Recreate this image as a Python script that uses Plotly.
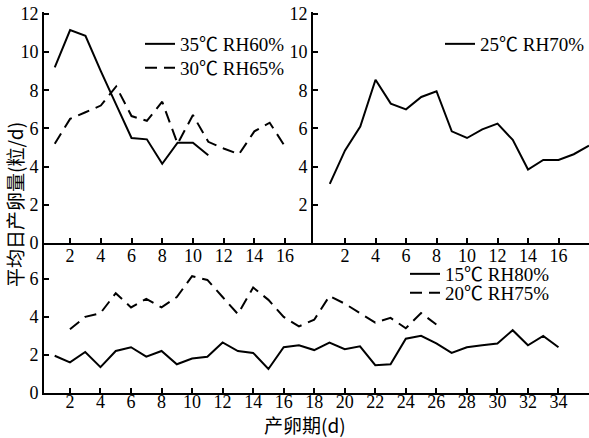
import plotly.graph_objects as go

# ---- data ----
days_35 = list(range(1, 12))
egg_35 = [9.2, 11.15, 10.85, 9.0, 7.25, 5.5, 5.43, 4.15, 5.25, 5.25, 4.6]
days_30 = list(range(1, 17))
egg_30 = [5.2, 6.5, 6.85, 7.2, 8.2, 6.65, 6.4, 7.4, 5.2, 6.7, 5.3, 4.95, 4.65, 5.85, 6.3, 5.05]
days_25 = list(range(1, 19))
egg_25 = [3.1, 4.85, 6.1, 8.55, 7.3, 7.0, 7.65, 7.95, 5.85, 5.5, 5.95, 6.25, 5.4, 3.85, 4.35, 4.35, 4.65, 5.1]
days_15 = list(range(1, 35))
egg_15 = [1.95, 1.6, 2.15, 1.35, 2.2, 2.4, 1.9, 2.2, 1.5, 1.8, 1.9, 2.65, 2.2, 2.1, 1.25, 2.4, 2.5,
          2.25, 2.65, 2.3, 2.45, 1.45, 1.5, 2.85, 3.0, 2.6, 2.1, 2.4, 2.5, 2.6, 3.3, 2.5, 3.0, 2.4]
days_20 = list(range(2, 27))
egg_20 = [3.35, 4.0, 4.2, 5.25, 4.5, 4.95, 4.5, 5.05, 6.15, 5.95, 5.05, 4.15, 5.55, 4.9, 4.0, 3.5,
          3.85, 5.1, 4.7, 4.2, 3.7, 3.95, 3.4, 4.2, 3.6]

ticks_top_left = list(range(2, 17, 2))
ticks_top_right = list(range(2, 17, 2))
origin_tick = [0]             # corner tick label "0" of the right panel
yticks_top_left = list(range(0, 13, 2))
yticks_top_right = list(range(2, 13, 2))
ticks_bottom = list(range(2, 35, 2))
yticks_bottom = list(range(0, 7, 2))

W, H = 589, 438
FONT = "Liberation Serif, Noto Sans CJK SC, serif"
CJK = "Noto Sans CJK SC, Liberation Serif, serif"

def px(x):
    return x / W

def py(y):
    return 1 - y / H

fig = go.Figure()
line_solid = dict(color="black", width=2)
line_dash = dict(color="black", width=2, dash="12px,7px")
tick_font = dict(family=FONT, size=18, color="black")

fig.add_trace(go.Scatter(x=days_35, y=egg_35, mode="lines", line=line_solid,
                         name="35℃ RH60%", xaxis="x", yaxis="y", legend="legend"))
fig.add_trace(go.Scatter(x=days_30, y=egg_30, mode="lines", line=line_dash,
                         name="30℃ RH65%", xaxis="x", yaxis="y", legend="legend2"))
fig.add_trace(go.Scatter(x=days_25, y=egg_25, mode="lines", line=line_solid,
                         name="25℃ RH70%", xaxis="x2", yaxis="y2", legend="legend3"))
fig.add_trace(go.Scatter(x=days_15, y=egg_15, mode="lines", line=line_solid,
                         name="15℃ RH80%", xaxis="x3", yaxis="y3", legend="legend4"))
fig.add_trace(go.Scatter(x=days_20, y=egg_20, mode="lines", line=line_dash,
                         name="20℃ RH75%", xaxis="x3", yaxis="y3", legend="legend5"))
# corner "0" label of the right panel's x axis, drawn below its axis line
fig.add_trace(go.Scatter(x=origin_tick, y=[-0.6], mode="text",
                         text=[str(v) for v in origin_tick], textposition="middle center",
                         textfont=tick_font, cliponaxis=False, showlegend=False,
                         hoverinfo="skip", xaxis="x2", yaxis="y2"))

axis_common = dict(showline=True, linecolor="black", linewidth=2, showgrid=False,
                   zeroline=False, ticks="inside", ticklen=5, tickwidth=1.5,
                   tickcolor="black", tickfont=tick_font,
                   fixedrange=True, automargin=False, ticklabeloverflow="allow")

top_y0, top_y1 = 243, 12
bot_y0, bot_y1 = 392.7, 243

legend_font = dict(family=FONT, size=19, color="black")

def leg(xp, yp):
    return dict(x=px(xp), y=py(yp), xanchor="left", yanchor="top",
                bgcolor="rgba(0,0,0,0)", font=legend_font, borderwidth=0)

fig.update_layout(
    template="none",
    width=W, height=H,
    margin=dict(l=0, r=0, t=0, b=0, autoexpand=False),
    paper_bgcolor="white", plot_bgcolor="rgba(0,0,0,0)",
    xaxis=dict(axis_common, domain=[px(44), px(313)], range=[0.3, 17.82],
               tickvals=ticks_top_left, anchor="y", ticklabelstandoff=-5),
    yaxis=dict(axis_common, domain=[py(top_y0), py(top_y1)], range=[0, 12.1],
               tickvals=yticks_top_left, anchor="x"),
    xaxis2=dict(axis_common, domain=[px(313), 1], range=[-0.1, 18],
                tickvals=ticks_top_right, anchor="y2", ticklabelstandoff=-5),
    yaxis2=dict(axis_common, domain=[py(top_y0), py(top_y1)], range=[0, 12.1],
                tickvals=yticks_top_right, anchor="x2"),
    xaxis3=dict(axis_common, domain=[px(44), 1], range=[0.3, 36.0],
                tickvals=ticks_bottom, anchor="y3", ticklabelstandoff=-8),
    yaxis3=dict(axis_common, domain=[py(bot_y0), py(bot_y1)], range=[0, 7.9],
                tickvals=yticks_bottom, anchor="x3"),
    legend=leg(140, 25),
    legend2=leg(140, 49),
    legend3=leg(440, 25),
    legend4=leg(405, 255),
    legend5=leg(405, 274),
    showlegend=True,
    annotations=[
        dict(text="平均日产卵量(粒/d)", x=px(15), y=py(205), xref="paper", yref="paper",
             xanchor="center", yanchor="middle",
             textangle=-90, showarrow=False, font=dict(family=CJK, size=19, color="black")),
        dict(text="产卵期(d)", x=px(305), y=py(424), xref="paper", yref="paper",
             xanchor="center", yanchor="middle",
             showarrow=False, font=dict(family=CJK, size=19, color="black")),
    ],
)

fig.write_html("out.html", config={"displayModeBar": False},
               post_script="document.body.style.margin='0';document.body.style.overflow='hidden';")
